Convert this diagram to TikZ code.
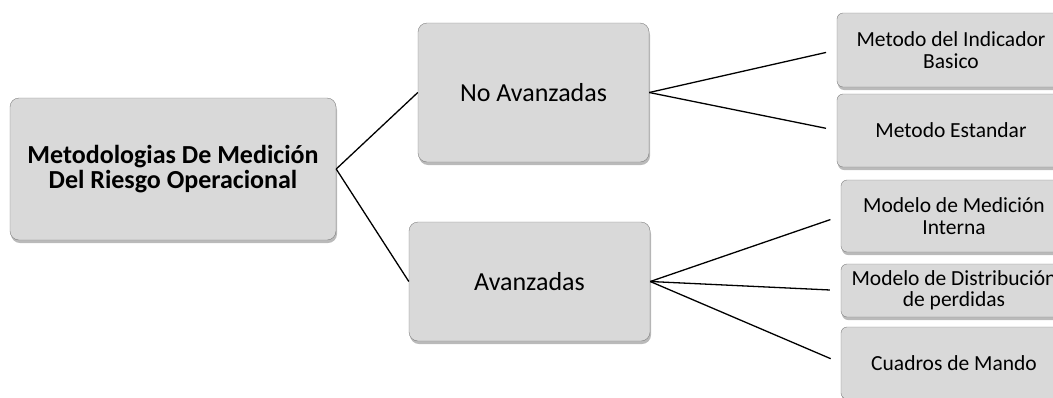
\documentclass[tikz,border=0pt]{standalone}
\usepackage{fontspec}
\setmainfont{Carlito}
\usetikzlibrary{shadows}

\begin{document}
\begin{tikzpicture}[x=1pt,y=-1pt,box/.style={draw=black!50,fill=black!15,rounded corners=9pt,align=center,inner sep=0pt,drop shadow={shadow xshift=1pt,shadow yshift=-3pt,fill=black!60,opacity=.45}},big/.style={box,font=\fontsize{26}{25}\selectfont},small/.style={box,rounded corners=6pt,font=\fontsize{21.5}{21.5}\selectfont},link/.style={line width=1.3pt,shorten >=11pt}]
\useasboundingbox (0,0) rectangle (1053,397);
\node[big,font=\fontsize{26}{25}\selectfont\bfseries,minimum width=326pt,minimum height=142pt] (root) at (173,169) {Metodologias De Medición\\Del Riesgo Operacional};
\node[big,minimum width=231pt,minimum height=139pt] (noav) at (533.5,92.5) {No Avanzadas};
\node[big,minimum width=241pt,minimum height=119pt] (av) at (529.5,281.5) {Avanzadas};
\node[small,minimum width=228pt,minimum height=74pt] (bia) at (951,50) {Metodo del Indicador\\Basico};
\node[small,minimum width=228pt,minimum height=73pt] (std) at (951,130.5) {Metodo Estandar};
\node[small,minimum width=226pt,minimum height=72pt] (ama) at (954,216) {Modelo de Medición\\Interna};
\node[small,minimum width=226pt,minimum height=53pt] (lda) at (954,290.5) {Modelo de Distribución\\de perdidas};
\node[small,minimum width=226pt,minimum height=72pt] (sc) at (954,363) {Cuadros de Mando};
\draw[link,shorten >=0pt] (root.east) -- (noav.west);
\draw[link,shorten >=0pt] (root.east) -- (av.west);
\draw[link] (noav.east) -- (bia.west);
\draw[link] (noav.east) -- (std.west);
\draw[link] (av.east) -- (ama.west);
\draw[link] (av.east) -- (lda.west);
\draw[link] (av.east) -- (sc.west);
\end{tikzpicture}
\end{document}
